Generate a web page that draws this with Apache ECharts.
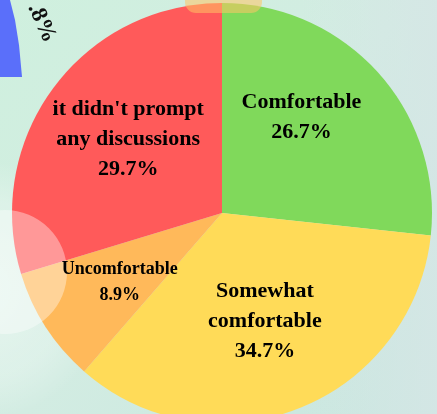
<!DOCTYPE html>
<html>
<head>
<meta charset="utf-8">
<script src="https://cdn.jsdelivr.net/npm/echarts@6/dist/echarts.min.js"></script>
<style>
html,body{margin:0;padding:0;}
#chart{width:437px;height:414px;}
</style>
</head>
<body>
<div id="chart"></div>
<script>
var categories = ["Comfortable", "Somewhat\ncomfortable", "Uncomfortable", "it didn't prompt\nany discussions"];
var values = [26.7, 34.7, 8.9, 29.7];
var colors = ["#80d95b", "#ffdb58", "#ffb95a", "#ff5a5a"];
var labelSizes = [22, 22, 18, 22];
var labelShift = [[-12, -13], [-2, -6], [1, 2], [5, 0]];

var chart = echarts.init(document.getElementById('chart'));

var pieData = categories.map(function (c, i) {
  return { name: c, value: values[i], itemStyle: { color: colors[i] } };
});
var labelData = categories.map(function (c, i) {
  return {
    name: c, value: values[i],
    label: { fontSize: labelSizes[i], lineHeight: labelSizes[i] < 20 ? 26 : 30 }
  };
});

var option = {
  animation: false,
  graphic: [
    { type: 'rect', z: -10, shape: { x: 0, y: 0, width: 437, height: 414 },
      style: { fill: new echarts.graphic.LinearGradient(0, 0, 1, 1, [
        { offset: 0, color: '#cff0de' },
        { offset: 0.5, color: '#d2ece2' },
        { offset: 1, color: '#c8e6df' }
      ]) } },
    { type: 'rect', z: -9, shape: { x: 300, y: 0, width: 137, height: 414 },
      style: { fill: new echarts.graphic.LinearGradient(0, 0, 1, 0, [
        { offset: 0, color: 'rgba(214,230,230,0)' },
        { offset: 1, color: 'rgba(214,230,230,0.8)' }
      ]) } },
    { type: 'circle', z: -8, shape: { cx: -20, cy: 290, r: 130 },
      style: { fill: new echarts.graphic.RadialGradient(0.5, 0.5, 0.5, [
        { offset: 0, color: 'rgba(255,255,255,0.45)' },
        { offset: 0.7, color: 'rgba(255,255,255,0.25)' },
        { offset: 1, color: 'rgba(255,255,255,0)' }
      ]) } },
    { type: 'polygon', z: -5, shape: { points: [[0,0],[10,0],[15,20],[19,45],[22,77],[0,77]] },
      style: { fill: '#5a6ffa' } },
    { type: 'text', z: -5, x: 44, y: 0, rotation: -1.15,
      style: { text: '.8%', font: 'bold 23px "Liberation Serif"', fill: '#111' } },
    { type: 'circle', z: 50, shape: { cx: 5, cy: 272, r: 62 },
      style: { fill: 'rgba(255,255,255,0.38)' } },
    { type: 'rect', z: 50, shape: { x: 185, y: -20, width: 77, height: 33, r: 11 },
      style: { fill: 'rgba(255,196,100,0.55)' } }
  ],
  series: [
    {
      type: 'pie',
      center: [222, 213],
      radius: 210,
      startAngle: 90,
      clockwise: true,
      silent: true,
      label: { show: false },
      labelLine: { show: false },
      data: pieData
    },
    {
      type: 'pie',
      center: [222, 213],
      radius: [30, 210],
      startAngle: 90,
      clockwise: true,
      silent: true,
      z: 60,
      itemStyle: { color: 'rgba(0,0,0,0)' },
      label: {
        show: true,
        position: 'inside',
        color: '#000',
        fontFamily: '"Liberation Serif", "Times New Roman", serif',
        fontWeight: 'bold',
        formatter: function (p) { return p.name + '\n' + p.value.toFixed(1) + '%'; }
      },
      labelLayout: function (p) {
        var s = labelShift[p.dataIndex];
        return { dx: s[0], dy: s[1] };
      },
      labelLine: { show: false },
      data: labelData
    }
  ]
};
chart.setOption(option);
</script>
</body>
</html>
